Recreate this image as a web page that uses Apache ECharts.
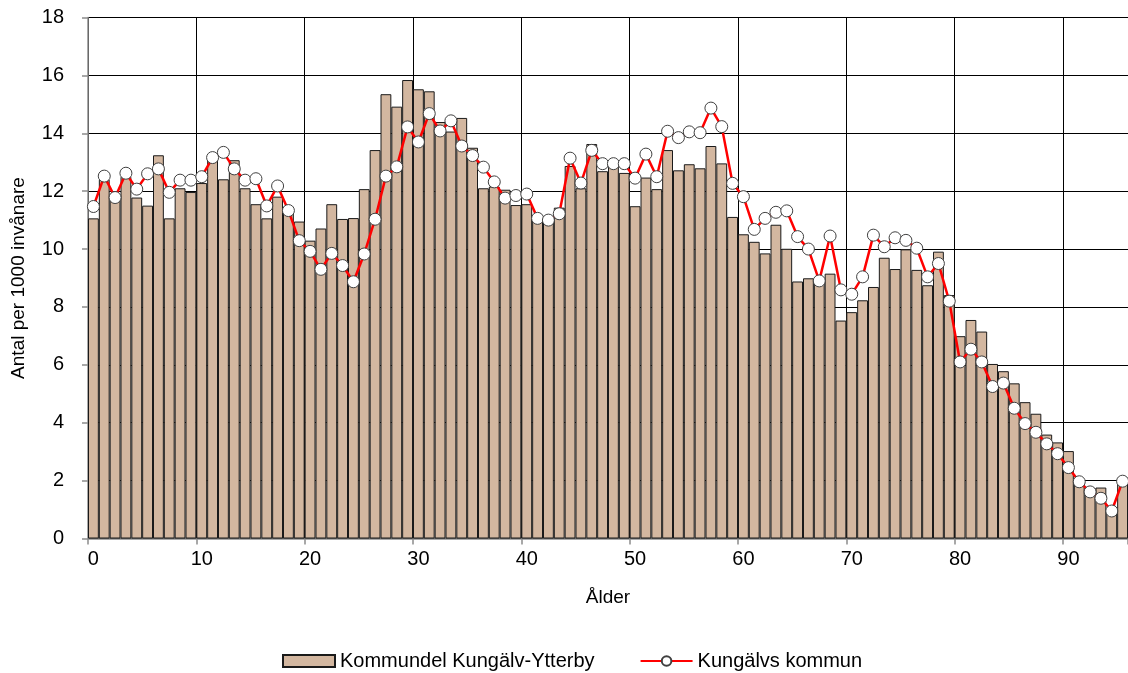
<!DOCTYPE html>
<html>
<head>
<meta charset="utf-8">
<script src="https://cdn.jsdelivr.net/npm/echarts@6/dist/echarts.min.js"></script>
<style>
  html, body { margin: 0; padding: 0; background: #fff; }
  #chart { width: 1128px; height: 673px; }
</style>
</head>
<body>
<div id="chart"></div>
<script>
// Ages 0–95
const ages = Array.from({ length: 96 }, (_, i) => String(i));

// Antal per 1000 invånare, kommundel Kungälv-Ytterby (bars)
const kommundel = [
  11.06, 12.40, 11.85, 12.50, 11.78, 11.50, 13.24, 11.06, 12.10, 11.97,
  12.28, 13.10, 12.41, 13.07, 12.10, 11.55, 11.06, 11.81, 11.47, 10.95,
  10.29, 10.71, 11.55, 11.04, 11.07, 12.07, 13.42, 15.35, 14.92, 15.84,
  15.52, 15.45, 14.39, 14.06, 14.53, 13.50, 12.10, 12.16, 12.05, 11.52,
  11.55, 11.05, 10.95, 11.43, 12.87, 12.10, 13.63, 12.69, 12.88, 12.63,
  11.48, 12.47, 12.07, 13.42, 12.72, 12.93, 12.79, 13.56, 12.96, 11.11,
  10.51, 10.25, 9.85, 10.84, 10.01, 8.88, 8.99, 8.88, 9.15, 7.53,
  7.82, 8.23, 8.69, 9.70, 9.31, 9.99, 9.28, 8.75, 9.91, 8.41,
  6.99, 7.55, 7.15, 6.03, 5.78, 5.36, 4.71, 4.31, 3.59, 3.32,
  3.02, 2.00, 1.75, 1.76, 0.95, 1.98
];

// Antal per 1000 invånare, hela Kungälvs kommun (line)
const kommun = [
  11.47, 12.52, 11.78, 12.62, 12.07, 12.60, 12.77, 11.96, 12.38, 12.38,
  12.50, 13.16, 13.34, 12.77, 12.38, 12.43, 11.49, 12.18, 11.33, 10.29,
  9.92, 9.30, 9.85, 9.43, 8.87, 9.83, 11.03, 12.52, 12.84, 14.22,
  13.70, 14.68, 14.08, 14.43, 13.56, 13.23, 12.83, 12.32, 11.76, 11.85,
  11.90, 11.06, 11.00, 11.22, 13.14, 12.28, 13.41, 12.95, 12.95, 12.95,
  12.45, 13.28, 12.50, 14.07, 13.85, 14.05, 14.02, 14.87, 14.23, 12.27,
  11.81, 10.68, 11.06, 11.27, 11.32, 10.43, 10.00, 8.90, 10.45, 8.59,
  8.44, 9.04, 10.48, 10.08, 10.39, 10.30, 10.03, 9.04, 9.50, 8.20,
  6.10, 6.54, 6.10, 5.25, 5.37, 4.50, 3.97, 3.67, 3.27, 2.93,
  2.45, 1.96, 1.61, 1.39, 0.95, 1.98
];

const seriesNames = ['Kommundel Kungälv-Ytterby', 'Kungälvs kommun'];

const FONT = '"Liberation Sans", Arial, sans-serif';
const everyTenth = (i) => i % 10 === 0;

const chart = echarts.init(document.getElementById('chart'), null, { renderer: 'canvas' });

chart.setOption({
  animation: false,
  backgroundColor: '#ffffff',
  textStyle: { fontFamily: FONT, color: '#000' },
  grid: { left: 88, right: 0, top: 17.5, bottom: 134.5, containLabel: false },
  legend: {
    left: 282,
    top: 651,
    padding: 0,
    itemWidth: 52,
    itemHeight: 12,
    itemGap: 45,
    itemTextGap: 6,
    textStyle: { fontFamily: FONT, fontSize: 20, lineHeight: 20, color: '#000' },
    data: [
      { name: seriesNames[0], icon: 'rect' },
      { name: seriesNames[1] }
    ]
  },
  xAxis: {
    type: 'category',
    data: ages,
    boundaryGap: true,
    name: 'Ålder',
    nameLocation: 'middle',
    nameGap: 50,
    nameTextStyle: { fontFamily: FONT, fontSize: 19, color: '#000' },
    axisLine: { show: true, lineStyle: { color: '#8c8c8c', width: 1.5 } },
    axisTick: { show: true, interval: (i) => everyTenth(i), alignWithLabel: false, length: 6, lineStyle: { color: '#8c8c8c', width: 1.5 } },
    axisLabel: { interval: (i) => everyTenth(i), fontFamily: FONT, fontSize: 20, color: '#000', margin: 11 },
    splitLine: { show: true, interval: (i) => everyTenth(i), lineStyle: { color: '#000', width: 1 } }
  },
  yAxis: {
    type: 'value',
    min: 0,
    max: 18,
    interval: 2,
    name: 'Antal per 1000 invånare',
    nameLocation: 'middle',
    nameGap: 60,
    nameTextStyle: { fontFamily: FONT, fontSize: 19, color: '#000' },
    axisLine: { show: true, lineStyle: { color: '#8c8c8c', width: 1.5 } },
    axisTick: { show: true, length: 6, lineStyle: { color: '#8c8c8c', width: 1.5 } },
    axisLabel: { fontFamily: FONT, fontSize: 20, color: '#000', margin: 24 },
    splitLine: { show: true, lineStyle: { color: '#000', width: 1 } }
  },
  series: [
    {
      name: seriesNames[0],
      type: 'bar',
      data: kommundel,
      barCategoryGap: '0%',
      itemStyle: { color: '#D3B7A0', borderColor: '#1a1a1a', borderWidth: 1 },
      z: 2
    },
    {
      name: seriesNames[1],
      type: 'line',
      data: kommun,
      symbol: 'circle',
      symbolSize: 12,
      showAllSymbol: true,
      lineStyle: { color: '#ff0000', width: 2.5 },
      itemStyle: { color: '#ffffff', borderColor: '#404040', borderWidth: 1 },
      z: 3
    }
  ]
});
</script>
</body>
</html>
